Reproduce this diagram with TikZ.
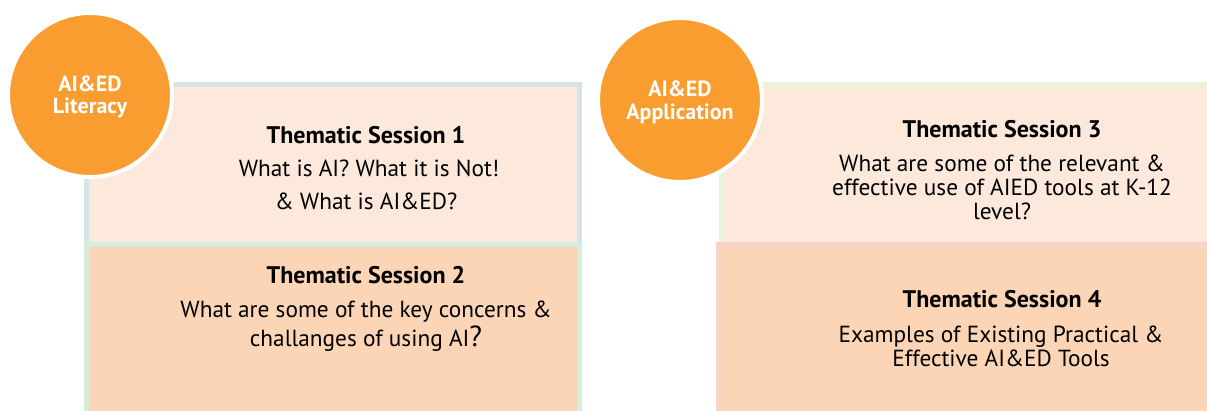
\documentclass[tikz,border=0pt]{standalone}
\usepackage{fontspec}
\setmainfont{PT Sans}
\definecolor{orangec}{HTML}{F99D31}
\definecolor{paleA}{HTML}{FCE9DB}
\definecolor{paleB}{HTML}{FBD5B5}
\definecolor{bordBlue}{HTML}{D5E4EA}
\definecolor{bordGreen}{HTML}{D4EEDB}
\definecolor{bordLime}{HTML}{EAF4D9}
\definecolor{bordPink}{HTML}{F8D4C6}
\tikzset{
  panel/.style={line width=5pt},
  badge/.style={circle, fill=orangec, draw=white, line width=4pt, minimum size=164pt, inner sep=0pt},
  badgetxt/.style={anchor=base, text=white, font=\fontsize{22}{24}\selectfont\bfseries, inner sep=0pt},
  headtxt/.style={anchor=base, font=\fontsize{24}{26}\selectfont\bfseries, inner sep=0pt},
  bodytxt/.style={anchor=base, font=\fontsize{23.3}{26}\selectfont, inner sep=0pt}
}
\begin{document}
\begin{tikzpicture}[x=1pt,y=-1pt]
\useasboundingbox (0,0) rectangle (1207,410);
% left panel
\draw[panel, draw=bordBlue, fill=paleA] (86.5,84.5) rectangle (579.5,244.5);
\draw[panel, draw=bordGreen, fill=paleB] (86.5,244.5) rectangle (579.5,420);
% right panel
\draw[panel, draw=bordLime, fill=paleA] (721.5,84.5) rectangle (1215,244.5);
\draw[panel, draw=bordPink, fill=paleB] (718.5,244.5) rectangle (1215,420);
% badges
\node[badge] (b1) at (90,95) {};
\node[badge] (b2) at (680,100) {};
\node[badgetxt] (b1a) at (90,91) {AI\&ED};
\node[badgetxt] (b1b) at (90,113) {Literacy};
\node[badgetxt] (b2a) at (680,96) {AI\&ED};
\node[badgetxt] (b2b) at (680,119) {Application};
% session 1
\node[headtxt] (h1) at (366,143) {Thematic Session 1};
\node[bodytxt] (t1a) at (369,176) {What is AI? What it is Not!};
\node[bodytxt] (t1b) at (366,209) {\& What is AI\&ED?};
% session 2
\node[headtxt] (h2) at (366,283) {Thematic Session 2};
\node[bodytxt] (t2a) at (366,317) {What are some of the key concerns \&};
\node[bodytxt] (t2b) at (366,346) {challanges of using AI{\fontsize{29}{30}\selectfont ?}};
% session 3
\node[headtxt] (h3) at (1002,137) {Thematic Session 3};
\node[bodytxt] (t3a) at (1002,171) {What are some of the relevant \&};
\node[bodytxt] (t3b) at (1002,195) {effective use of AIED tools at K-12};
\node[bodytxt] (t3c) at (1002,219) {level?};
% session 4
\node[headtxt] (h4) at (1002,307) {Thematic Session 4};
\node[bodytxt] (t4a) at (1001,342) {Examples of Existing Practical \&};
\node[bodytxt] (t4b) at (1001,366) {Effective AI\&ED Tools};
\end{tikzpicture}
\end{document}
